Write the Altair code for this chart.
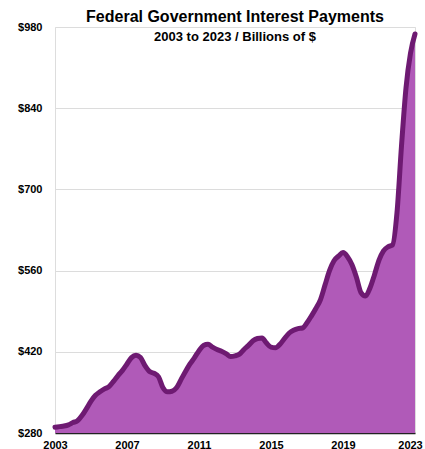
import altair as alt
import pandas as pd

# Quarterly values, 2003.00 to 2023.00 (billions of $)
start_year = 2003
quarter_values = [
    290, 291, 292, 294, 298, 301, 310, 322, 335, 345,
    351, 356, 360, 369, 379, 388, 399, 410, 414, 410,
    396, 386, 383, 377, 358, 351, 352, 358, 372, 386,
    399, 410, 422, 431, 433, 428, 424, 421, 417, 412,
    413, 416, 424, 431, 439, 443, 444, 435, 428, 427,
    433, 443, 452, 457, 460, 461, 470, 482, 495, 510,
    535, 560, 577, 585, 591, 584, 570, 548, 522, 516,
    530, 553, 578, 594, 601, 604, 660, 775, 875, 935,
    968,
]
years = [start_year + 0.25 * i for i in range(len(quarter_values))]
x_ticks = [2003, 2007, 2011, 2015, 2019, 2023]
y_ticks = [280, 420, 560, 700, 840, 980]

df = pd.DataFrame({"year": years, "value": quarter_values})

FONT = "Liberation Sans"
FILL = "#b05ab8"
LINE = "#6e1a72"

chart = (
    alt.Chart(df)
    .mark_area(
        color=FILL,
        opacity=1,
        interpolate="monotone",
        line={"color": LINE, "strokeWidth": 5, "strokeJoin": "round", "strokeCap": "round"},
    )
    .encode(
        x=alt.X(
            "year:Q",
            scale=alt.Scale(domain=[2003, 2023], nice=False, zero=False),
            axis=alt.Axis(
                values=x_ticks,
                format="d",
                title=None,
                grid=False,
                ticks=False,
                domain=True,
                domainColor="#222222",
                domainWidth=1.5,
                labelFont=FONT,
                labelFontSize=11,
                labelFontWeight="bold",
                labelColor="#000000",
                labelPadding=6,
                labelFlush=False,
                labelOverlap=False,
                labelOffset={"condition": {"test": "datum.value == 2023", "value": -5}, "value": 0},
            ),
        ),
        y=alt.Y(
            "value:Q",
            scale=alt.Scale(domain=[280, 980], nice=False, zero=False),
            axis=alt.Axis(
                values=y_ticks,
                labelExpr="'$' + datum.value",
                title=None,
                grid=True,
                gridColor="#dcdcdc",
                gridWidth=1,
                ticks=False,
                domain=False,
                labelFont=FONT,
                labelFontSize=11,
                labelFontWeight="bold",
                labelColor="#000000",
                labelPadding=13,
            ),
        ),
        y2=alt.datum(280),
    )
    .properties(
        width=360,
        height=406,
        padding={"left": 55, "top": 27, "right": 10, "bottom": 16},
        autosize=alt.AutoSizeParams(type="none"),
        title=alt.TitleParams(
            text="Federal Government Interest Payments",
            subtitle="2003 to 2023 / Billions of $",
            font=FONT,
            fontSize=16,
            fontWeight="bold",
            color="#000000",
            subtitleFont=FONT,
            subtitleFontSize=13,
            subtitleFontWeight="bold",
            subtitleColor="#000000",
            subtitlePadding=6,
            anchor="middle",
            offset=-23,
        ),
    )
    .configure_view(stroke=None)
    .configure(background="white")
)

chart.save("out.html", embed_options={"renderer": "svg", "actions": False})
